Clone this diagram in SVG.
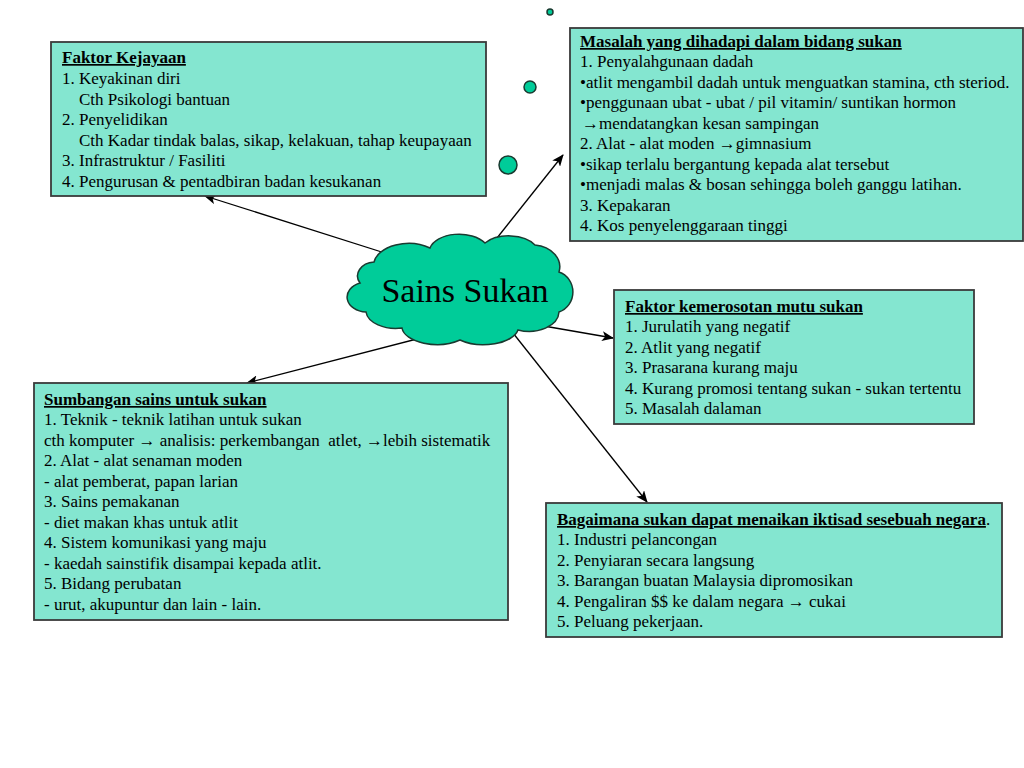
<svg xmlns="http://www.w3.org/2000/svg" width="1024" height="768" viewBox="0 0 1024 768">
<defs>
<marker id="ah" markerWidth="12" markerHeight="10" refX="11" refY="5" orient="auto" markerUnits="userSpaceOnUse">
<path d="M0,0 L12,5 L0,10 L3,5 Z" fill="#000"/>
</marker>
<style>
.box{fill:#84e6d0;stroke:#3a3a3a;stroke-width:1.8}
.t{font-family:"Liberation Serif","Times New Roman",serif;font-size:17px;fill:#000}
.h{font-weight:bold;text-decoration:underline}
.c{stroke:#000;stroke-width:1.3;fill:none;marker-end:url(#ah)}
.bub{fill:#00cc99;stroke:#1a3a30;stroke-width:1.5}
</style>
</defs>
<rect width="1024" height="768" fill="#fff"/>
<g id="connectors">
<line class="c" x1="388" y1="254" x2="205" y2="196"/>
<line class="c" x1="497" y1="238" x2="563" y2="155"/>
<line class="c" x1="538" y1="325" x2="613" y2="338"/>
<line class="c" x1="440" y1="333" x2="247" y2="383"/>
<line class="c" x1="513" y1="333" x2="647" y2="502"/>
</g>
<g id="bubbles">
<circle class="bub" cx="550" cy="12" r="3"/>
<circle class="bub" cx="530" cy="87" r="6"/>
<circle class="bub" cx="508" cy="165" r="9"/>
</g>
<g id="center">
<path class="bub" d="M374,262 A35,22 0 0 1 430,248 A30,18 0 0 1 485,243 A30,18 0 0 1 535,245 A28,22 0 0 1 559,272 A20,21 0 0 1 559,312 A30,20 0 0 1 518,330 A35,18 0 0 1 460,340 A35,18 0 0 1 402,328 A30,18 0 0 1 366,312 A20,15 0 0 1 360,283 A18,14 0 0 1 374,262 Z"/>
<text x="465" y="302" text-anchor="middle" font-family="'Liberation Serif','Times New Roman',serif" font-size="34" fill="#000">Sains Sukan</text>
</g>
<g id="faktor-kejayaan">
<rect class="box" x="51" y="42" width="435" height="154"/>
<text class="t h" x="62" y="63">Faktor Kejayaan</text>
<text class="t" x="62" y="84">1. Keyakinan diri</text>
<text class="t" x="79" y="105">Cth Psikologi bantuan</text>
<text class="t" x="62" y="125">2. Penyelidikan</text>
<text class="t" x="79" y="146">Cth Kadar tindak balas, sikap, kelakuan, tahap keupayaan</text>
<text class="t" x="62" y="166">3. Infrastruktur / Fasiliti</text>
<text class="t" x="62" y="187">4. Pengurusan &amp; pentadbiran badan kesukanan</text>
</g>
<g id="masalah">
<rect class="box" x="570" y="28" width="453" height="213"/>
<text class="t h" x="580" y="47">Masalah yang dihadapi dalam bidang sukan</text>
<text class="t" x="580" y="67">1. Penyalahgunaan dadah</text>
<text class="t" x="580" y="88">•atlit mengambil dadah untuk menguatkan stamina, cth steriod.</text>
<text class="t" x="580" y="108">•penggunaan ubat - ubat / pil vitamin/ suntikan hormon</text>
<text class="t" x="582" y="129">→mendatangkan kesan sampingan</text>
<text class="t" x="580" y="149">2. Alat - alat moden →gimnasium</text>
<text class="t" x="580" y="170">•sikap terlalu bergantung kepada alat tersebut</text>
<text class="t" x="580" y="190">•menjadi malas &amp; bosan sehingga boleh ganggu latihan.</text>
<text class="t" x="580" y="211">3. Kepakaran</text>
<text class="t" x="580" y="231">4. Kos penyelenggaraan tinggi</text>
</g>
<g id="faktor-kemerosotan">
<rect class="box" x="614" y="290" width="360" height="134"/>
<text class="t h" x="625" y="312">Faktor kemerosotan mutu sukan</text>
<text class="t" x="625" y="332">1. Jurulatih yang negatif</text>
<text class="t" x="625" y="353">2. Atlit yang negatif</text>
<text class="t" x="625" y="373">3. Prasarana kurang maju</text>
<text class="t" x="625" y="394">4. Kurang promosi tentang sukan - sukan tertentu</text>
<text class="t" x="625" y="414">5. Masalah dalaman</text>
</g>
<g id="sumbangan">
<rect class="box" x="34" y="383" width="474" height="237"/>
<text class="t h" x="44" y="405">Sumbangan sains untuk sukan</text>
<text class="t" x="44" y="425">1. Teknik - teknik latihan untuk sukan</text>
<text class="t" x="44" y="446" xml:space="preserve">cth komputer → analisis: perkembangan  atlet, →lebih sistematik</text>
<text class="t" x="44" y="466">2. Alat - alat senaman moden</text>
<text class="t" x="44" y="487">- alat pemberat, papan larian</text>
<text class="t" x="44" y="507">3. Sains pemakanan</text>
<text class="t" x="44" y="528">- diet makan khas untuk atlit</text>
<text class="t" x="44" y="548">4. Sistem komunikasi yang maju</text>
<text class="t" x="44" y="569">- kaedah sainstifik disampai kepada atlit.</text>
<text class="t" x="44" y="589">5. Bidang perubatan</text>
<text class="t" x="44" y="610">- urut, akupuntur dan lain - lain.</text>
</g>
<g id="bagaimana">
<rect class="box" x="546" y="503" width="456" height="134"/>
<text class="t" x="557" y="525"><tspan class="h">Bagaimana sukan dapat menaikan iktisad sesebuah negara</tspan>.</text>
<text class="t" x="557" y="545">1. Industri pelancongan</text>
<text class="t" x="557" y="566">2. Penyiaran secara langsung</text>
<text class="t" x="557" y="586">3. Barangan buatan Malaysia dipromosikan</text>
<text class="t" x="557" y="607">4. Pengaliran $$ ke dalam negara → cukai</text>
<text class="t" x="557" y="627">5. Peluang pekerjaan.</text>
</g>
</svg>
